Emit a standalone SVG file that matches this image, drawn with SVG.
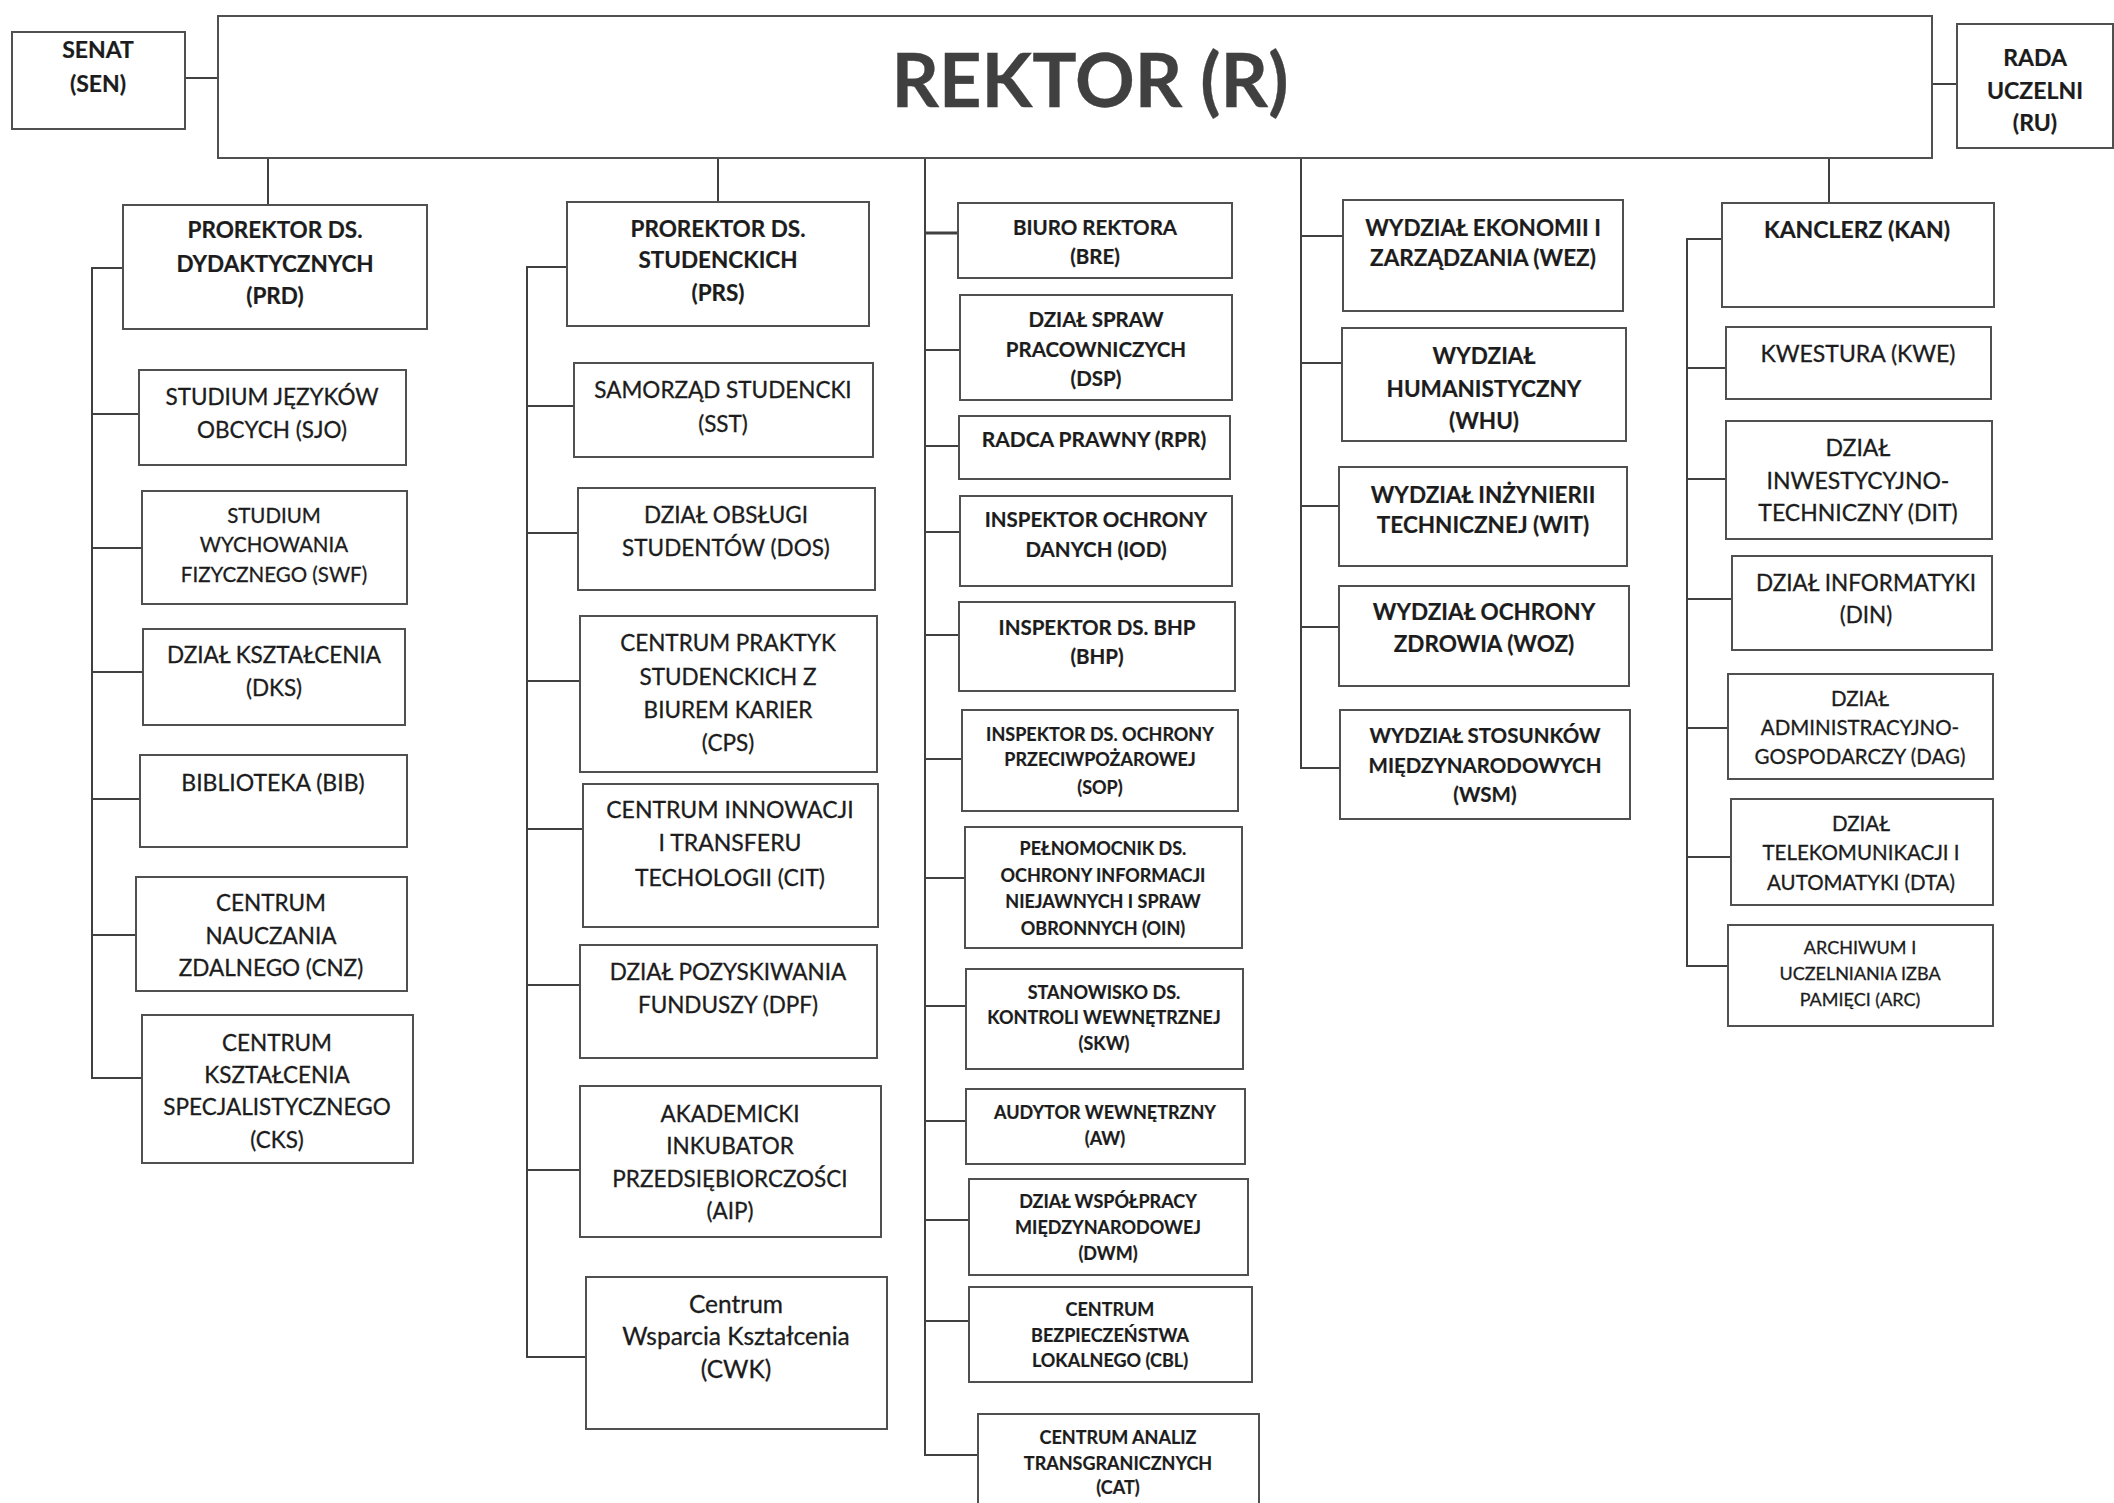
<svg xmlns="http://www.w3.org/2000/svg" width="2114" height="1503" viewBox="0 0 2114 1503">
<style>
.bg{fill:#fff}
.box{fill:#fff;stroke:#505050;stroke-width:2}
.ln{fill:none;stroke:#404040;stroke-width:2}
text{font-family:Lato,"Open Sans","Liberation Sans",sans-serif;text-anchor:middle;fill:#1c1c1c;stroke:#1c1c1c;stroke-width:0.3}
.b{font-weight:bold;stroke-width:0.2}
.s23{font-size:23px}.s22{font-size:22.5px}.s21{font-size:21px}.s20{font-size:20.5px}.s19{font-size:19px}.s18{font-size:18px}
.cw{font-size:24.5px}
.big{font-size:74px;font-weight:bold;fill:#404040;stroke:#404040}
</style>
<rect class="bg" x="0" y="0" width="2114" height="1503"/>
<g id="connectors">
<path class="ln" d="M185 78H218M1932 84H1957"/>
<path class="ln" d="M268 158V205M718 158V202M1301 158V768H1340M1829 158V203"/>
<path class="ln" d="M123 268H92V1078H142M92 414H139M92 548H142M92 672H143M92 799H140M92 935H136"/>
<path class="ln" d="M567 267H527V1357H586M527 406H574M527 533H578M527 681H580M527 829H583M527 985H580M527 1170H580"/>
<path class="ln" d="M925 158V1455H978M925 350H960M925 446H959M925 532H960M925 635H959M925 759H962M925 878H965M925 1006H966M925 1121H966M925 1220H969M925 1321H969"/>
<path class="ln" style="stroke-width:3" d="M925 233H958"/>
<path class="ln" d="M1301 236H1343M1301 363H1342M1301 506H1339M1301 627H1339"/>
<path class="ln" d="M1722 239H1687V966H1728M1687 368H1726M1687 479H1726M1687 599H1732M1687 728H1728M1687 857H1731"/>
</g>
<g id="SEN"><rect class="box" x="12" y="32" width="173" height="97"/><text class="b s23" x="98" y="58">SENAT</text><text class="b s23" x="98" y="92">(SEN)</text></g>
<g id="R"><rect class="box" x="218" y="16" width="1714" height="142"/><text class="big" x="1090" y="107">REKTOR (R)</text></g>
<g id="RU"><rect class="box" x="1957" y="24" width="156" height="124"/><text class="b s23" x="2035" y="66">RADA</text><text class="b s23" x="2035" y="99">UCZELNI</text><text class="b s23" x="2035" y="131">(RU)</text></g>

<g id="PRD"><rect class="box" x="123" y="205" width="304" height="124"/><text class="b s22" x="275" y="238">PROREKTOR DS.</text><text class="b s22" x="275" y="272">DYDAKTYCZNYCH</text><text class="b s22" x="275" y="304">(PRD)</text></g>
<g id="SJO"><rect class="box" x="139" y="370" width="267" height="95"/><text class="s22" x="272" y="405">STUDIUM JĘZYKÓW</text><text class="s22" x="272" y="438">OBCYCH (SJO)</text></g>
<g id="SWF"><rect class="box" x="142" y="491" width="265" height="113"/><text class="s20" x="274" y="523">STUDIUM</text><text class="s20" x="274" y="552">WYCHOWANIA</text><text class="s20" x="274" y="582">FIZYCZNEGO (SWF)</text></g>
<g id="DKS"><rect class="box" x="143" y="629" width="262" height="96"/><text class="s22" x="274" y="663">DZIAŁ KSZTAŁCENIA</text><text class="s22" x="274" y="696">(DKS)</text></g>
<g id="BIB"><rect class="box" x="140" y="755" width="267" height="92"/><text class="s23" x="273" y="791">BIBLIOTEKA (BIB)</text></g>
<g id="CNZ"><rect class="box" x="136" y="877" width="271" height="114"/><text class="s22" x="271" y="911">CENTRUM</text><text class="s22" x="271" y="944">NAUCZANIA</text><text class="s22" x="271" y="976">ZDALNEGO (CNZ)</text></g>
<g id="CKS"><rect class="box" x="142" y="1015" width="271" height="148"/><text class="s22" x="277" y="1051">CENTRUM</text><text class="s22" x="277" y="1083">KSZTAŁCENIA</text><text class="s22" x="277" y="1115">SPECJALISTYCZNEGO</text><text class="s22" x="277" y="1148">(CKS)</text></g>

<g id="PRS"><rect class="box" x="567" y="202" width="302" height="124"/><text class="b s22" x="718" y="237">PROREKTOR DS.</text><text class="b s22" x="718" y="268">STUDENCKICH</text><text class="b s22" x="718" y="301">(PRS)</text></g>
<g id="SST"><rect class="box" x="574" y="363" width="299" height="94"/><text class="s22" x="723" y="398">SAMORZĄD STUDENCKI</text><text class="s22" x="723" y="432">(SST)</text></g>
<g id="DOS"><rect class="box" x="578" y="488" width="297" height="102"/><text class="s22" x="726" y="523">DZIAŁ OBSŁUGI</text><text class="s22" x="726" y="556">STUDENTÓW (DOS)</text></g>
<g id="CPS"><rect class="box" x="580" y="616" width="297" height="156"/><text class="s22" x="728" y="651">CENTRUM PRAKTYK</text><text class="s22" x="728" y="685">STUDENCKICH Z</text><text class="s22" x="728" y="718">BIUREM KARIER</text><text class="s22" x="728" y="751">(CPS)</text></g>
<g id="CIT"><rect class="box" x="583" y="784" width="295" height="143"/><text class="s23" x="730" y="818">CENTRUM INNOWACJI</text><text class="s23" x="730" y="851">I TRANSFERU</text><text class="s23" x="730" y="886">TECHOLOGII (CIT)</text></g>
<g id="DPF"><rect class="box" x="580" y="945" width="297" height="113"/><text class="s22" x="728" y="980">DZIAŁ POZYSKIWANIA</text><text class="s22" x="728" y="1013">FUNDUSZY (DPF)</text></g>
<g id="AIP"><rect class="box" x="580" y="1086" width="301" height="151"/><text class="s22" x="730" y="1122">AKADEMICKI</text><text class="s22" x="730" y="1154">INKUBATOR</text><text class="s22" x="730" y="1187">PRZEDSIĘBIORCZOŚCI</text><text class="s22" x="730" y="1219">(AIP)</text></g>
<g id="CWK"><rect class="box" x="586" y="1277" width="301" height="152"/><text class="cw" x="736" y="1313">Centrum</text><text class="cw" x="736" y="1345">Wsparcia Kształcenia</text><text class="cw" x="736" y="1378">(CWK)</text></g>

<g id="BRE"><rect class="box" x="958" y="203" width="274" height="75"/><text class="b s20" x="1095" y="235">BIURO REKTORA</text><text class="b s20" x="1095" y="264">(BRE)</text></g>
<g id="DSP"><rect class="box" x="960" y="295" width="272" height="105"/><text class="b s20" x="1096" y="327">DZIAŁ SPRAW</text><text class="b s20" x="1096" y="357">PRACOWNICZYCH</text><text class="b s20" x="1096" y="386">(DSP)</text></g>
<g id="RPR"><rect class="box" x="959" y="416" width="271" height="63"/><text class="b s21" x="1094" y="447">RADCA PRAWNY (RPR)</text></g>
<g id="IOD"><rect class="box" x="960" y="496" width="272" height="90"/><text class="b s20" x="1096" y="527">INSPEKTOR OCHRONY</text><text class="b s20" x="1096" y="557">DANYCH (IOD)</text></g>
<g id="BHP"><rect class="box" x="959" y="602" width="276" height="89"/><text class="b s20" x="1097" y="635">INSPEKTOR DS. BHP</text><text class="b s20" x="1097" y="664">(BHP)</text></g>
<g id="SOP"><rect class="box" x="962" y="710" width="276" height="101"/><text class="b s18" x="1100" y="741">INSPEKTOR DS. OCHRONY</text><text class="b s18" x="1100" y="766">PRZECIWPOŻAROWEJ</text><text class="b s18" x="1100" y="794">(SOP)</text></g>
<g id="OIN"><rect class="box" x="965" y="827" width="277" height="121"/><text class="b s18" x="1103" y="855">PEŁNOMOCNIK DS.</text><text class="b s18" x="1103" y="882">OCHRONY INFORMACJI</text><text class="b s18" x="1103" y="908">NIEJAWNYCH I SPRAW</text><text class="b s18" x="1103" y="935">OBRONNYCH (OIN)</text></g>
<g id="SKW"><rect class="box" x="966" y="969" width="277" height="100"/><text class="b s18" x="1104" y="999">STANOWISKO DS.</text><text class="b s18" x="1104" y="1024">KONTROLI WEWNĘTRZNEJ</text><text class="b s18" x="1104" y="1050">(SKW)</text></g>
<g id="AW"><rect class="box" x="966" y="1089" width="279" height="75"/><text class="b s18" x="1105" y="1119">AUDYTOR WEWNĘTRZNY</text><text class="b s18" x="1105" y="1145">(AW)</text></g>
<g id="DWM"><rect class="box" x="969" y="1179" width="279" height="96"/><text class="b s18" x="1108" y="1208">DZIAŁ WSPÓŁPRACY</text><text class="b s18" x="1108" y="1234">MIĘDZYNARODOWEJ</text><text class="b s18" x="1108" y="1260">(DWM)</text></g>
<g id="CBL"><rect class="box" x="969" y="1287" width="283" height="95"/><text class="b s18" x="1110" y="1316">CENTRUM</text><text class="b s18" x="1110" y="1342">BEZPIECZEŃSTWA</text><text class="b s18" x="1110" y="1367">LOKALNEGO (CBL)</text></g>
<g id="CAT"><rect class="box" x="978" y="1414" width="281" height="100"/><text class="b s18" x="1118" y="1444">CENTRUM ANALIZ</text><text class="b s18" x="1118" y="1470">TRANSGRANICZNYCH</text><text class="b s18" x="1118" y="1494">(CAT)</text></g>

<g id="WEZ"><rect class="box" x="1343" y="200" width="280" height="111"/><text class="b s22" x="1483" y="236">WYDZIAŁ EKONOMII I</text><text class="b s22" x="1483" y="266">ZARZĄDZANIA (WEZ)</text></g>
<g id="WHU"><rect class="box" x="1342" y="328" width="284" height="113"/><text class="b s22" x="1484" y="364">WYDZIAŁ</text><text class="b s22" x="1484" y="397">HUMANISTYCZNY</text><text class="b s22" x="1484" y="429">(WHU)</text></g>
<g id="WIT"><rect class="box" x="1339" y="467" width="288" height="99"/><text class="b s22" x="1483" y="503">WYDZIAŁ INŻYNIERII</text><text class="b s22" x="1483" y="533">TECHNICZNEJ (WIT)</text></g>
<g id="WOZ"><rect class="box" x="1339" y="586" width="290" height="100"/><text class="b s22" x="1484" y="620">WYDZIAŁ OCHRONY</text><text class="b s22" x="1484" y="652">ZDROWIA (WOZ)</text></g>
<g id="WSM"><rect class="box" x="1340" y="710" width="290" height="109"/><text class="b s20" x="1485" y="743">WYDZIAŁ STOSUNKÓW</text><text class="b s20" x="1485" y="773">MIĘDZYNARODOWYCH</text><text class="b s20" x="1485" y="802">(WSM)</text></g>

<g id="KAN"><rect class="box" x="1722" y="203" width="272" height="104"/><text class="b s23" x="1857" y="238">KANCLERZ (KAN)</text></g>
<g id="KWE"><rect class="box" x="1726" y="327" width="265" height="72"/><text class="s23" x="1858" y="362">KWESTURA (KWE)</text></g>
<g id="DIT"><rect class="box" x="1726" y="421" width="266" height="118"/><text class="s23" x="1858" y="456">DZIAŁ</text><text class="s23" x="1858" y="489">INWESTYCYJNO-</text><text class="s23" x="1858" y="521">TECHNICZNY (DIT)</text></g>
<g id="DIN"><rect class="box" x="1732" y="556" width="260" height="94"/><text class="s22" x="1866" y="591">DZIAŁ INFORMATYKI</text><text class="s22" x="1866" y="623">(DIN)</text></g>
<g id="DAG"><rect class="box" x="1728" y="674" width="265" height="105"/><text class="s20" x="1860" y="706">DZIAŁ</text><text class="s20" x="1860" y="735">ADMINISTRACYJNO-</text><text class="s20" x="1860" y="764">GOSPODARCZY (DAG)</text></g>
<g id="DTA"><rect class="box" x="1731" y="799" width="262" height="106"/><text class="s20" x="1861" y="831">DZIAŁ</text><text class="s20" x="1861" y="860">TELEKOMUNIKACJI I</text><text class="s20" x="1861" y="890">AUTOMATYKI (DTA)</text></g>
<g id="ARC"><rect class="box" x="1728" y="925" width="265" height="101"/><text class="s18" x="1860" y="954">ARCHIWUM I</text><text class="s18" x="1860" y="980">UCZELNIANIA IZBA</text><text class="s18" x="1860" y="1006">PAMIĘCI (ARC)</text></g>
</svg>
